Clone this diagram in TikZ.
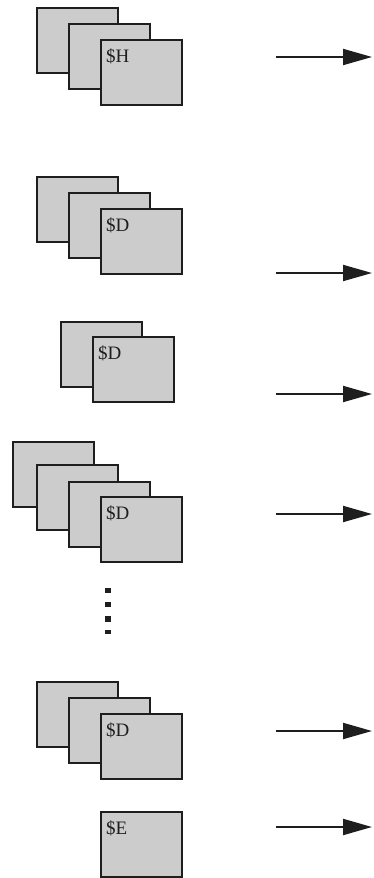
\documentclass[tikz,border=0pt]{standalone}
\usepackage{fontspec}
\setmainfont{Liberation Serif}
\usetikzlibrary{arrows.meta}
\definecolor{boxfill}{RGB}{204,204,204}
\definecolor{ink}{RGB}{30,30,30}
\tikzset{
  page/.style={draw=ink, fill=boxfill, line width=1.8pt, minimum width=81pt,
    minimum height=65pt, inner sep=0pt, outer sep=0pt, anchor=north west},
  tag/.style={anchor=base west, inner sep=0pt, text=ink,
    font=\fontsize{19}{19}\selectfont},
  flow/.style={draw=ink, line width=2pt,
    -{Triangle[length=29pt,width=16pt]}},
  dot/.style={fill=ink, inner sep=0pt, minimum width=6pt, minimum height=5.5pt}
}
\begin{document}
\begin{tikzpicture}[x=1pt,y=-1pt]
\useasboundingbox (0,0) rectangle (373,878);

% header pages
\node[page] (h1) at (37,8) {};
\node[page] (h2) at (69,24) {};
\node[page] (h3) at (101,40) {};
\node[tag] (th) at ([xshift=5pt,yshift=-22pt]h3.north west) {\$H};

% first data group
\node[page] (a1) at (37,177) {};
\node[page] (a2) at (69,193) {};
\node[page] (a3) at (101,209) {};
\node[tag] (ta) at ([xshift=5pt,yshift=-22pt]a3.north west) {\$D};

% second data group
\node[page] (b1) at (61,322) {};
\node[page] (b2) at (93,337) {};
\node[tag] (tb) at ([xshift=5pt,yshift=-22pt]b2.north west) {\$D};

% third data group
\node[page] (c1) at (13,442) {};
\node[page] (c2) at (37,465) {};
\node[page] (c3) at (69,482) {};
\node[page] (c4) at (101,497) {};
\node[tag] (tc) at ([xshift=5pt,yshift=-22pt]c4.north west) {\$D};

% continuation marks
\node[dot] (d1) at (108,590.5) {};
\node[dot] (d2) at (108,604.5) {};
\node[dot] (d3) at (108,619) {};
\node[dot, minimum height=4pt] (d4) at (108,632) {};

% last data group
\node[page] (e1) at (37,682) {};
\node[page] (e2) at (69,698) {};
\node[page] (e3) at (101,714) {};
\node[tag] (te) at ([xshift=5pt,yshift=-22pt]e3.north west) {\$D};

% end page
\node[page] (f1) at (101,812) {};
\node[tag] (tf) at ([xshift=5pt,yshift=-22pt]f1.north west) {\$E};

% output arrows
\foreach \n/\y in {1/57, 2/273, 3/394, 4/514, 5/731, 6/827} {
  \coordinate (s\n) at (276,\y);
  \coordinate (t\n) at (372,\y);
  \draw[flow] (s\n) -- (t\n);
}
\end{tikzpicture}
\end{document}
